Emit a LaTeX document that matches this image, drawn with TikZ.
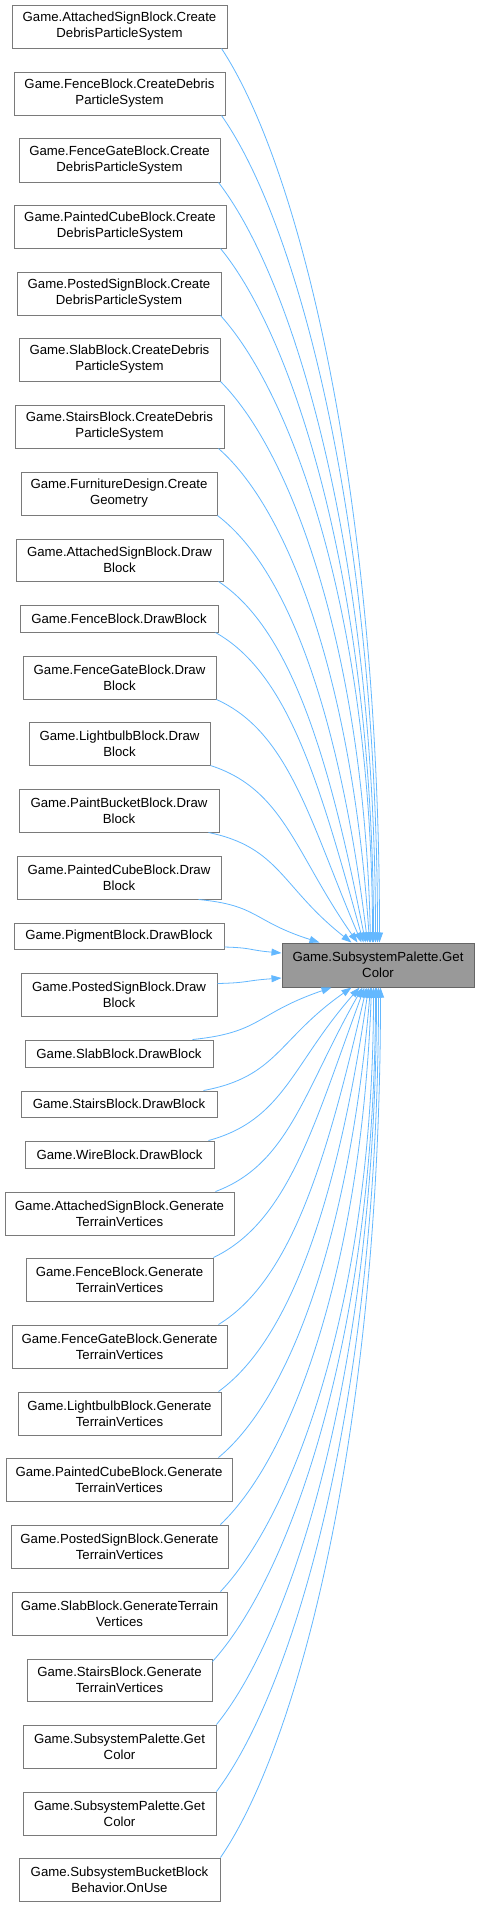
\documentclass[tikz,border=0pt]{standalone}
\usepackage{fontspec}
\setmainfont{Liberation Sans}
\usetikzlibrary{calc,arrows.meta}
\definecolor{edgeblue}{HTML}{63B8FF}
\definecolor{boxline}{HTML}{7A7A7A}
\definecolor{tfill}{HTML}{999999}
\definecolor{tline}{HTML}{666666}
\tikzset{
  box/.style={draw=boxline,fill=white,line width=1pt,inner sep=0pt,align=center,
    font=\fontsize{13.2}{16}\selectfont},
  focus/.style={box,draw=tline,fill=tfill},
  edge/.style={draw=edgeblue,line width=0.8pt,-{Triangle[length=10pt,width=7pt]}}
}
\newcommand\mybox[7][box]{\node[#1,minimum width={(#4-#3)*1pt},minimum height={(#6-#5)*1pt}] (#2) at ({(#3+#4)/2},{(#5+#6)/2}) {#7};}
\newcommand\calledge[2]{\draw[edge] let \p1=(#1), \p2=(#2), \n1={max(0,1-abs(\y2-\y1)/600)*0.6} in (\p1) .. controls ({\x1+0.5*(\x2-\x1)},{\y1+0.134*(\y2-\y1)}) and ({\x2-\n1*(\x2-\x1)},{\y2-0.5*(\y2-\y1)}) .. (\p2);}
\begin{document}
\begin{tikzpicture}[x=1pt,y=-1pt]
\useasboundingbox[fill=white] (0,0) rectangle (479,1907);
\mybox{b1}{12}{227}{5}{48}{Game.AttachedSignBlock.Create\\DebrisParticleSystem}
\mybox{b2}{14}{225}{72}{115}{Game.FenceBlock.CreateDebris\\ParticleSystem}
\mybox{b3}{19}{220}{138}{182}{Game.FenceGateBlock.Create\\DebrisParticleSystem}
\mybox{b4}{14}{226}{205}{248}{Game.PaintedCubeBlock.Create\\DebrisParticleSystem}
\mybox{b5}{17}{221}{272}{315}{Game.PostedSignBlock.Create\\DebrisParticleSystem}
\mybox{b6}{19}{220}{338}{381}{Game.SlabBlock.CreateDebris\\ParticleSystem}
\mybox{b7}{15}{224}{405}{448}{Game.StairsBlock.CreateDebris\\ParticleSystem}
\mybox{b8}{21}{217}{472}{515}{Game.FurnitureDesign.Create\\Geometry}
\mybox{b9}{16}{223}{539}{581}{Game.AttachedSignBlock.Draw\\Block}
\mybox{b10}{20}{218}{605}{632}{Game.FenceBlock.DrawBlock}
\mybox{b11}{23}{216}{656}{699}{Game.FenceGateBlock.Draw\\Block}
\mybox{b12}{29}{210}{722}{765}{Game.LightbulbBlock.Draw\\Block}
\mybox{b13}{19}{219}{789}{832}{Game.PaintBucketBlock.Draw\\Block}
\mybox{b14}{17}{221}{856}{899}{Game.PaintedCubeBlock.Draw\\Block}
\mybox{b15}{14}{224}{923}{949}{Game.PigmentBlock.DrawBlock}
\mybox{b16}{21}{217}{973}{1016}{Game.PostedSignBlock.Draw\\Block}
\mybox{b17}{25}{213}{1040}{1067}{Game.SlabBlock.DrawBlock}
\mybox{b18}{21}{217}{1091}{1117}{Game.StairsBlock.DrawBlock}
\mybox{b19}{25}{214}{1141}{1168}{Game.WireBlock.DrawBlock}
\mybox{b20}{5}{234}{1192}{1235}{Game.AttachedSignBlock.Generate\\TerrainVertices}
\mybox{b21}{26}{213}{1258}{1301}{Game.FenceBlock.Generate\\TerrainVertices}
\mybox{b22}{12}{227}{1325}{1368}{Game.FenceGateBlock.Generate\\TerrainVertices}
\mybox{b23}{18}{221}{1392}{1435}{Game.LightbulbBlock.Generate\\TerrainVertices}
\mybox{b24}{6}{232}{1458}{1501}{Game.PaintedCubeBlock.Generate\\TerrainVertices}
\mybox{b25}{11}{228}{1525}{1568}{Game.PostedSignBlock.Generate\\TerrainVertices}
\mybox{b26}{12}{227}{1592}{1635}{Game.SlabBlock.GenerateTerrain\\Vertices}
\mybox{b27}{27}{212}{1659}{1701}{Game.StairsBlock.Generate\\TerrainVertices}
\mybox{b28}{23}{216}{1725}{1768}{Game.SubsystemPalette.Get\\Color}
\mybox{b29}{23}{216}{1792}{1835}{Game.SubsystemPalette.Get\\Color}
\mybox{b30}{19}{220}{1858}{1901}{Game.SubsystemBucketBlock\\Behavior.OnUse}
\mybox[focus]{T}{282}{474}{943}{987}{Game.SubsystemPalette.Get\\Color}
% end points on the target
\coordinate (e1) at ($(T.north west)+(98,0)$);
\coordinate (e2) at ($(T.north west)+(96,0)$);
\coordinate (e3) at ($(T.north west)+(94,0)$);
\coordinate (e4) at ($(T.north west)+(92,0)$);
\coordinate (e5) at ($(T.north west)+(91,0)$);
\coordinate (e6) at ($(T.north west)+(89,0)$);
\coordinate (e7) at ($(T.north west)+(88,0)$);
\coordinate (e8) at ($(T.north west)+(86,0)$);
\coordinate (e9) at ($(T.north west)+(84,0)$);
\coordinate (e10) at ($(T.north west)+(82,0)$);
\coordinate (e11) at ($(T.north west)+(80,0)$);
\coordinate (e12) at ($(T.north west)+(76,0)$);
\coordinate (e13) at ($(T.north west)+(70,0)$);
\coordinate (e14) at ($(T.north west)+(38,0)$);
\coordinate (e15) at ($(T.west)+(0,-12)$);
\coordinate (e16) at ($(T.west)+(0,13)$);
\coordinate (e17) at ($(T.south west)+(50,0)$);
\coordinate (e18) at ($(T.south west)+(70,0)$);
\coordinate (e19) at ($(T.south west)+(78,0)$);
\coordinate (e20) at ($(T.south west)+(81,0)$);
\coordinate (e21) at ($(T.south west)+(83,0)$);
\coordinate (e22) at ($(T.south west)+(85,0)$);
\coordinate (e23) at ($(T.south west)+(87,0)$);
\coordinate (e24) at ($(T.south west)+(89,0)$);
\coordinate (e25) at ($(T.south west)+(90,0)$);
\coordinate (e26) at ($(T.south west)+(92,0)$);
\coordinate (e27) at ($(T.south west)+(94,0)$);
\coordinate (e28) at ($(T.south west)+(95,0)$);
\coordinate (e29) at ($(T.south west)+(97,0)$);
\coordinate (e30) at ($(T.south west)+(99,0)$);
% connectors
\calledge{$(b1.south east)+(-6,0)$}{e1}
\calledge{$(b2.south east)+(-4,0)$}{e2}
\calledge{$(b3.south east)+(-2,0)$}{e3}
\calledge{$(b4.south east)+(-6,0)$}{e4}
\calledge{$(b5.south east)+(-1,0)$}{e5}
\calledge{$(b6.south east)+(0,0)$}{e6}
\calledge{$(b7.south east)+(-6,0)$}{e7}
\calledge{$(b8.south east)+(0,0)$}{e8}
\calledge{$(b9.south east)+(-5,0)$}{e9}
\calledge{$(b10.south east)+(-3,0)$}{e10}
\calledge{$(b11.south east)+(0,0)$}{e11}
\calledge{$(b12.south east)+(0,0)$}{e12}
\calledge{$(b13.south east)+(-11,0)$}{e13}
\calledge{$(b14.south east)+(-23,0)$}{e14}
\calledge{$(b15.east)+(0,11)$}{e15}
\calledge{$(b16.east)+(0,-11)$}{e16}
\calledge{$(b17.north east)+(-21,0)$}{e17}
\calledge{$(b18.north east)+(-14,0)$}{e18}
\calledge{$(b19.north east)+(-6,0)$}{e19}
\calledge{$(b20.north east)+(-19,0)$}{e20}
\calledge{$(b21.north east)+(0,0)$}{e21}
\calledge{$(b22.north east)+(-9,0)$}{e22}
\calledge{$(b23.north east)+(-3,0)$}{e23}
\calledge{$(b24.north east)+(-14,0)$}{e24}
\calledge{$(b25.north east)+(-8,0)$}{e25}
\calledge{$(b26.north east)+(-7,0)$}{e26}
\calledge{$(b27.north east)+(0,3)$}{e27}
\calledge{$(b28.north east)+(0,0)$}{e28}
\calledge{$(b29.north east)+(0,0)$}{e29}
\calledge{$(b30.north east)+(0,0)$}{e30}
\end{tikzpicture}
\end{document}
